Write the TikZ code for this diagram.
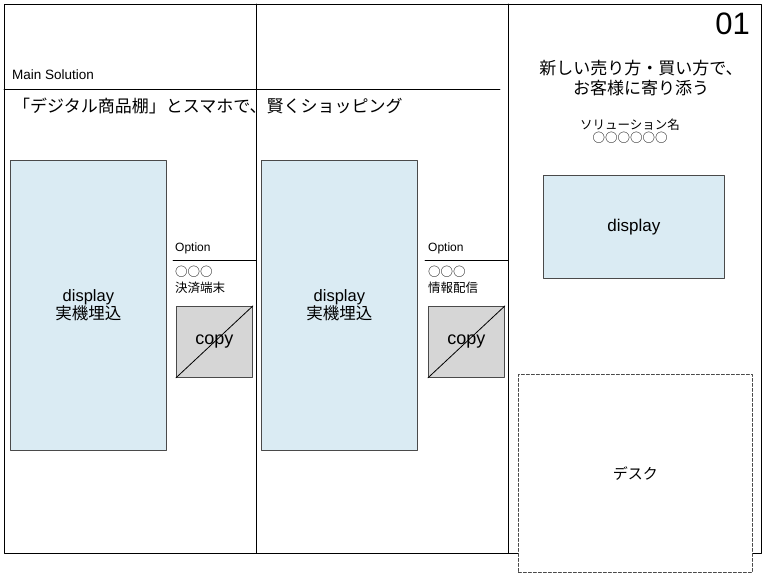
\documentclass[tikz,border=0pt]{standalone}
\usepackage{fontspec}
\setmainfont{Noto Sans CJK JP}
\newfontfamily\latin{Liberation Sans}
\definecolor{dispblue}{HTML}{DAEBF3}
\definecolor{copygray}{HTML}{D6D6D6}
\definecolor{edgegray}{HTML}{4A4A4A}
\tikzset{
  disp/.style={draw=edgegray, fill=dispblue, line width=0.8pt, anchor=north west, inner sep=0pt, align=center},
  copybox/.style={draw=edgegray, fill=copygray, line width=0.8pt, anchor=north west, inner sep=0pt,
    minimum width=76pt, minimum height=71pt, font=\latin\fontsize{18}{21}\selectfont},
  deskbox/.style={draw=edgegray, fill=white, dashed, dash pattern=on 3pt off 2pt, line width=0.8pt, anchor=north west,
    inner sep=0pt, minimum width=234pt, minimum height=198pt, font=\fontsize{15}{18}\selectfont},
  opt/.style={anchor=west, inner sep=0pt, font=\latin\fontsize{12}{14}\selectfont},
  optname/.style={anchor=north west, inner sep=0pt, align=left, font=\fontsize{12.5}{16}\selectfont}
}
\begin{document}
\begin{tikzpicture}[x=1pt, y=-1pt, line join=round, line cap=round]
  \useasboundingbox (0,0) rectangle (768,580);
  \def\ya{4} \def\yb{553} % Rahmen
  \draw[line width=0.8pt] (4,\ya) rectangle (761,\yb);
  \draw[line width=0.8pt] (256,\ya)--(256,\yb);
  \draw[line width=0.8pt] (508,\ya)--(508,\yb);
  \draw[line width=0.8pt] (4,89)--(500,89);
  \draw[line width=0.8pt] (173,260)--(256,260);
  \draw[line width=0.8pt] (425,260)--(508,260);
  \node (main) at (12,75) [anchor=west, inner sep=0pt, font=\latin\fontsize{13.5}{16}\selectfont]{Main Solution};
  \node (catch) at (13,106) [anchor=west, inner sep=0pt, font=\fontsize{17}{20}\selectfont]{「デジタル商品棚」とスマホで、賢くショッピング};
  \node (num) at (750,24) [anchor=east, inner sep=0pt, font=\latin\fontsize{31}{34}\selectfont]{01};
  \node (title) at (641,78) [inner sep=0pt, align=center, font=\fontsize{17}{20.5}\selectfont]{新しい売り方・買い方で、\\お客様に寄り添う};
  \node (sol) at (630,131) [inner sep=0pt, align=center, font=\fontsize{12.5}{13.5}\selectfont]{ソリューション名\\○○○○○○};
  \node[disp, minimum width=156pt, minimum height=290pt, font=\fontsize{16.5}{17}\selectfont] (dispA) at (10,160){{\latin display}\\実機埋込};
  \node[disp, minimum width=156pt, minimum height=290pt, font=\fontsize{16.5}{17}\selectfont] (dispB) at (261,160){{\latin display}\\実機埋込};
  \node[disp, minimum width=181pt, minimum height=103pt, font=\latin\fontsize{17}{19}\selectfont] (dispC) at (543,175){display};
  \node[opt] (optA) at (175,248){Option};
  \node[optname] (nameA) at (175,266){○○○\\決済端末};
  \node[copybox] (copyA) at (176,306){copy};
  \draw[line width=0.8pt] (copyA.south west)--(copyA.north east);
  \node[opt] (optB) at (428,248){Option};
  \node[optname] (nameB) at (428,266){○○○\\情報配信};
  \node[copybox] (copyB) at (428,306){copy};
  \draw[line width=0.8pt] (copyB.south west)--(copyB.north east);
  \node[deskbox] (desk) at (518,374){デスク};
\end{tikzpicture}
\end{document}
